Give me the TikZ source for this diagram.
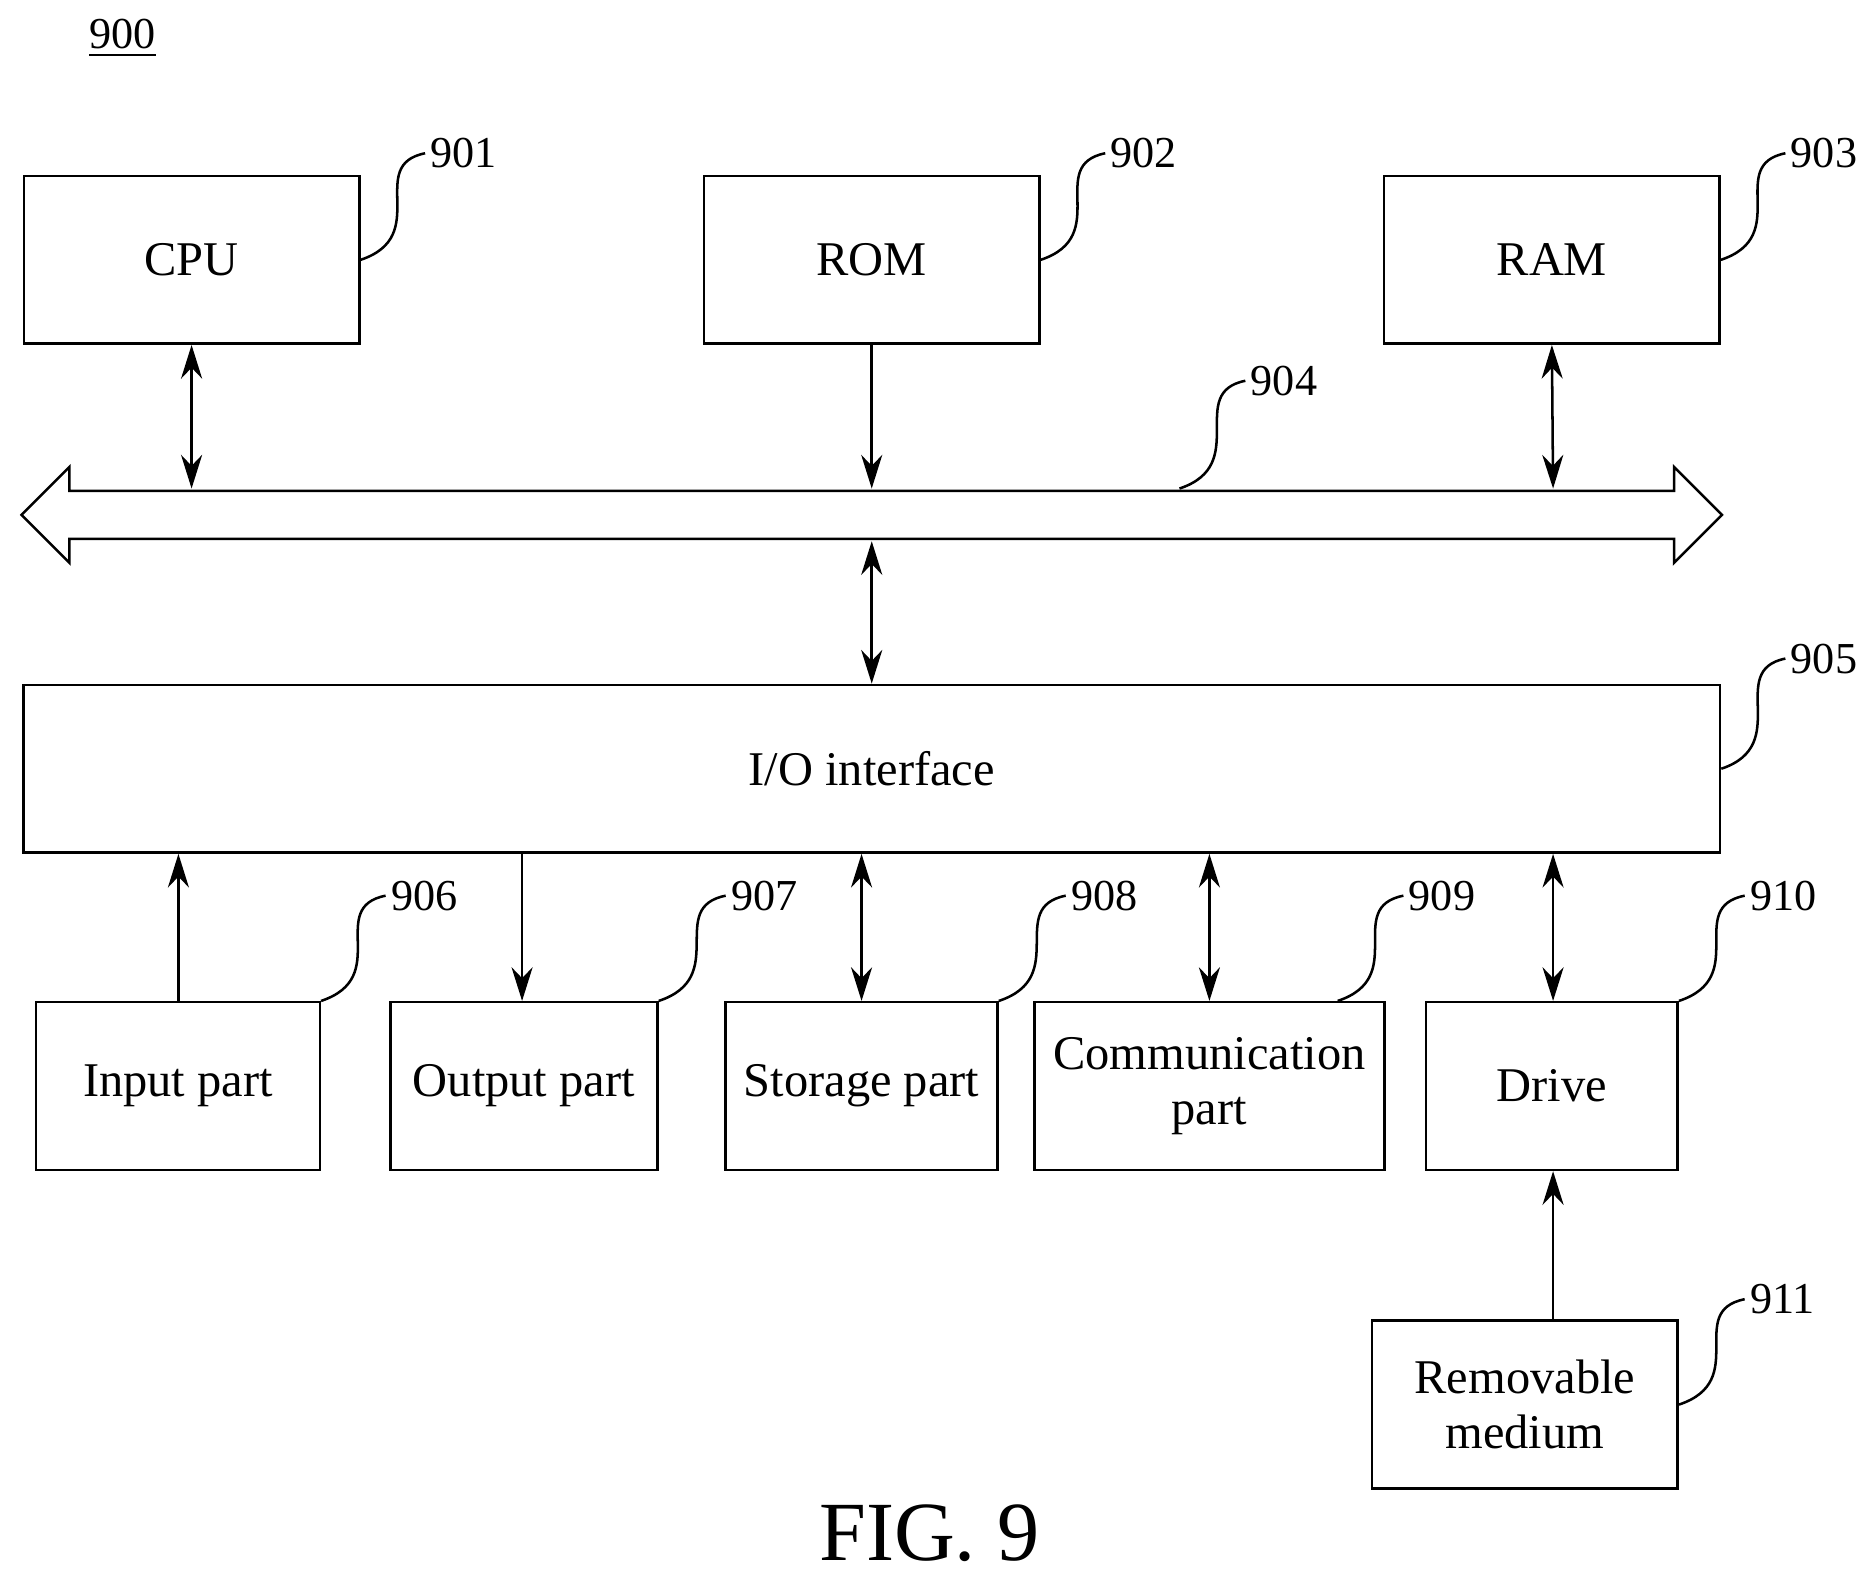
\documentclass[tikz,border=0pt]{standalone}
\usepackage{fontspec}
\setmainfont{Liberation Serif}
\usetikzlibrary{arrows.meta}
\begin{document}
\begin{tikzpicture}[x=0.01cm,y=-0.01cm,semithick,>={Stealth[length=8pt,width=5pt]}]
\tikzstyle{box} = [draw, minimum height=1.4cm, inner sep=1pt, align=center, font=\fontsize{11.5}{13}\selectfont]
\tikzstyle{num} = [inner sep=1pt, anchor=west, font=\fontsize{10.5}{11}\selectfont]
\newcommand\callout[3]{\draw (#1) .. controls +(60,-20) and +(-50,10) .. (#2.west);}
\useasboundingbox (0,0) rectangle (1560,1316);

\node[anchor=west,inner sep=1pt,font=\fontsize{10.5}{11}\selectfont] (n900) at (70,32) {\underline{900}};

% top row
\node[box, minimum width=2.8cm] (cpu) at (160,217) {CPU};
\node[box, minimum width=2.8cm] (rom) at (728,217) {ROM};
\node[box, minimum width=2.8cm] (ram) at (1296,217) {RAM};
\node[num] (n901) at (355,128) {901};
\node[num] (n902) at (923,128) {902};
\node[num] (n903) at (1491,128) {903};
\callout{cpu.east}{n901}{}
\callout{rom.east}{n902}{}
\callout{ram.east}{n903}{}

% bus
\coordinate (bl) at (18,430);
\coordinate (br) at (1438,430);
\draw (bl) -- (58,390) -- (58,410) -- (1398,410) -- (1398,390) -- (br)
  -- (1398,470) -- (1398,450) -- (58,450) -- (58,470) -- cycle;
\coordinate (bcpu) at (160,408);
\coordinate (brom) at (728,408);
\coordinate (bram) at (1297,408);
\coordinate (bio) at (728,452);
\coordinate (b904) at (985,408);
\node[num] (n904) at (1040,318) {904};
\callout{b904}{n904}{}
\draw[<->] (cpu.south) -- (bcpu);
\draw[->] (rom.south) -- (brom);
\draw[<->] (ram.south) -- (bram);

% I/O
\node[box, minimum width=14.16cm] (io) at (728,642) {I/O interface};
\node[num] (n905) at (1491,550) {905};
\callout{io.east}{n905}{}
\draw[<->] (bio) -- (io.north);

% bottom row
\node[box, minimum width=2.37cm] (inp) at (148.5,907) {Input part};
\node[box, minimum width=2.23cm] (outp) at (437.5,907) {Output part};
\node[box, minimum width=2.27cm] (stor) at (719.5,907) {Storage part};
\node[box, minimum width=2.92cm] (comm) at (1010,907) {Communication\\part};
\node[box, minimum width=2.1cm] (drv) at (1296,907) {Drive};
\node[box, minimum width=2.55cm] (rem) at (1273.5,1173) {Removable\\medium};
\node[num] (n906) at (322,748) {906};
\node[num] (n907) at (606,748) {907};
\node[num] (n908) at (890,748) {908};
\node[num] (n909) at (1172,748) {909};
\node[num] (n910) at (1457,748) {910};
\node[num] (n911) at (1457,1085) {911};
\draw (inp.north east) .. controls +(60,-20) and +(-50,10) .. (n906.west);
\draw (outp.north east) .. controls +(60,-20) and +(-50,10) .. (n907.west);
\draw (stor.north east) .. controls +(60,-20) and +(-50,10) .. (n908.west);
\draw (comm.north east) ++(-40,0) .. controls +(60,-20) and +(-50,10) .. (n909.west);
\draw (drv.north east) .. controls +(60,-20) and +(-50,10) .. (n910.west);
\callout{rem.east}{n911}{}

\draw[->] (inp.north -| 149,0) -- (io.south -| 149,0);
\draw[->] (io.south -| 436,0) -- (outp.north -| 436,0);
\draw[<->] (io.south -| stor) -- (stor.north);
\draw[<->] (io.south -| comm) -- (comm.north);
\draw[<->] (io.south -| 1297,0) -- (drv.north -| 1297,0);
\draw[->] (rem.north -| 1297,0) -- (drv.south -| 1297,0);

\node[inner sep=0pt,font=\fontsize{20}{20}\selectfont] (fig) at (776,1280) {FIG. 9};
\end{tikzpicture}
\end{document}
